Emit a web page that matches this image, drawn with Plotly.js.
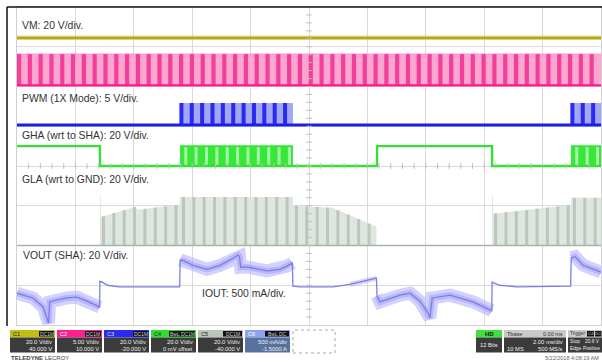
<!DOCTYPE html>
<html><head><meta charset="utf-8">
<script src="https://cdn.plot.ly/plotly-3.0.1.min.js"></script>
<style>html,body{margin:0;padding:0;background:#fff;}#chart{width:602px;height:362px;}</style>
</head><body><div id="chart"></div>
<script>
// ---- DATA (time in ms: 2 ms/div x 10 div; levels in screen divisions: 0 = bottom, 8 = top) ----
const commutationEdges = [2.84, 5.58, 9.45, 12.33, 16.27, 18.97];
const vmLevel = 7.22;
const pwmLow = 6.03, pwmHigh = 6.82, pwmStripePeriod = 0.37;
const blueLow = 5.03, blueHigh = 5.585;
const blueBursts = [[5.58, 9.45], [18.97, 20]];
const greenStepT = [0, 2.84, 2.84, 12.33, 12.33, 16.27, 16.27, 20];
const greenStepY = [4.5, 4.5, 4.0, 4.0, 4.5, 4.5, 4.0, 4.0];
const greenLow = 4.0, greenHigh = 4.5;
const greenBursts = [[5.58, 9.45], [18.97, 20]];
const burstStripePeriod = 0.355;
const glaBase = 2.0;
const glaEnvT = [[2.84, 2.865, 2.88, 4.04, 4.14, 5.58],
                 [5.58, 9.45],
                 [9.45, 10.8, 12.31],
                 [16.27, 16.295, 16.31, 18.97],
                 [18.97, 20]];
const glaEnvTop = [[3.27, 3.27, 2.72, 2.97, 2.90, 3.03],
                   [3.22, 3.22],
                   [3.00, 2.95, 2.47],
                   [3.25, 3.25, 2.80, 3.02],
                   [3.20, 3.20]];
const voutT = [0, 0.55, 0.90, 1.03, 1.08, 1.12, 1.30, 1.71, 2.05, 2.40, 2.74, 2.83,
  2.84, 2.92, 3.10, 3.50, 5.57,
  5.59, 5.70, 6.03, 6.51, 6.95, 7.40, 7.57, 7.62, 7.66, 7.88, 8.56, 9.00, 9.25, 9.43,
  9.45, 9.70, 10.82, 11.40, 12.09, 12.31,
  12.33, 12.43, 13.12, 13.46, 13.80, 14.08, 14.14, 14.22, 14.83, 15.62, 16.20, 16.26,
  16.27, 16.32, 16.54, 17.12, 18.96,
  18.98, 19.11, 19.38, 20.0];
const voutY = [0.80, 0.68, 0.45, 0.15, 0.05, 0.58, 0.62, 0.68, 0.70, 0.60, 0.48, 0.45,
  1.10, 1.08, 1.00, 0.96, 0.96,
  1.64, 1.62, 1.50, 1.40, 1.50, 1.68, 1.76, 1.72, 1.45, 1.46, 1.36, 1.40, 1.48, 1.56,
  0.98, 0.96, 0.96, 1.02, 1.15, 1.18,
  0.73, 0.58, 0.75, 0.80, 0.60, 0.30, 0.18, 0.68, 0.75, 0.58, 0.38, 0.36,
  1.08, 1.06, 1.00, 0.96, 0.98,
  1.69, 1.72, 1.51, 1.33];
const voutBands = [[0, 2.835], [5.585, 9.44], [12.32, 16.265], [18.975, 20]];
const voutNarrowBands = [[10.9, 12.32]];
const groundLevels = [6.03, 5.03, 4.0, 2.0, 0.98];
const traceLabels = ['VM: 20 V/div.', 'PWM (1X Mode): 5 V/div.', 'GHA (wrt to SHA): 20 V/div.',
  'GLA (wrt to GND): 20 V/div.', 'VOUT (SHA): 20 V/div.', 'IOUT: 500 mA/div.'];
const chanNames = ['C1', 'C2', 'C3', 'C4', 'C5', 'C6'];
const chanTags = ['DC1M', 'DC1M', 'DC1M', 'BwL DC1M', 'DC1M', 'BwL DC'];
const chanScales = ['20.0 V/div', '5.00 V/div', '20.0 V/div', '20.0 V/div', '20.0 V/div', '500 mA/div'];
const chanOffsets = ['40.000 V', '10.000 V', '-20.000 V', '0 mV offset', '-40.000 V', '-1.5000 A'];
const hdBox = ['HD', '12 Bits'];
const tbaseBox = ['Tbase', '0.00 ms', '2.00 ms/div', '10 MS', '500 MS/s'];
const trigBox = ['Trigger', 'C4', 'DC', 'Stop', '20.6 V', 'Edge', 'Positive'];
const dateText = '5/22/2018 4:08:19 AM';

// ---- helpers ----
const L = 17, R = 601, T = 7, B = 325;
const PX = x => (x - L) / (R - L);
const PY = y => (B - y) / (B - T);
function rects(iv, lo, hi) { const x = [], y = []; iv.forEach(([a, b]) => { x.push(a, b, b, a, a, null); y.push(lo, lo, hi, hi, lo, null); }); return {x, y}; }
function stripes(iv, period, phase, lo, topFn) {
  const x = [], y = [];
  iv.forEach(([a, b]) => { for (let t = a + phase; t < b - 0.03; t += period) { x.push(t, t, null); y.push(lo, topFn(t), null); } });
  return {x, y};
}
function interp(ts, ys, t) {
  for (let i = 0; i < ts.length - 1; i++) if (t >= ts[i] && t <= ts[i + 1]) {
    const f = (t - ts[i]) / ((ts[i + 1] - ts[i]) || 1); return ys[i] + f * (ys[i + 1] - ys[i]);
  }
  return ys[ys.length - 1];
}
function sub(iv) { const x = [], y = []; iv.forEach(([a, b]) => { voutT.forEach((t, i) => { if (t >= a && t <= b) { x.push(t); y.push(voutY[i]); } }); x.push(null); y.push(null); }); return {x, y}; }
const ln = (d, color, width, extra) => Object.assign({type: 'scatter', mode: 'lines', x: d.x, y: d.y, line: {color, width}, hoverinfo: 'skip'}, extra || {});
const fillT = (d, color) => ({type: 'scatter', mode: 'lines', x: d.x, y: d.y, fill: 'toself', fillcolor: color, line: {width: 0, color: color}, hoverinfo: 'skip'});

const traces = [];
// VM
traces.push(ln({x: [0, 20], y: [vmLevel + 0.05, vmLevel + 0.05]}, 'rgba(190,185,60,0.45)', 1));
traces.push(ln({x: [0, 20], y: [vmLevel, vmLevel]}, '#b3ab12', 3));
// PWM (pink)
traces.push(fillT(rects([[0, 20]], pwmLow, pwmHigh), '#ffa6d0'));
traces.push(ln(stripes([[0, 20]], pwmStripePeriod, 0.07, pwmLow, () => pwmHigh), '#f2409a', 4.2));
traces.push(ln({x: [0, 20], y: [pwmHigh, pwmHigh]}, 'rgba(255,120,190,0.6)', 1));
traces.push(ln({x: [0, 20], y: [pwmLow, pwmLow]}, '#ff1a8c', 2.2));
// blue
traces.push(fillT(rects(blueBursts, blueLow, blueHigh), '#a3a8f6'));
traces.push(ln(stripes(blueBursts, burstStripePeriod, 0.05, blueLow, () => blueHigh), '#2a2af2', 4));
traces.push(ln({x: [0, 20], y: [blueLow, blueLow]}, '#1d1dee', 3));
// green
traces.push(fillT(rects(greenBursts, greenLow, greenHigh), '#38e838'));
traces.push(ln(stripes(greenBursts, burstStripePeriod, 0.2, greenLow, () => greenHigh - 0.02), '#a8f4a8', 3));
traces.push(ln(rects(greenBursts, greenHigh, greenHigh), '#33e633', 2));
traces.push(ln({x: greenStepT, y: greenStepY}, '#33e033', 2.4));
// GLA (gray)
glaEnvT.forEach((ts, k) => {
  const tops = glaEnvTop[k];
  traces.push(fillT({x: ts.concat([ts[ts.length - 1], ts[0], ts[0]]), y: tops.concat([glaBase, glaBase, tops[0]])}, '#dfe5df'));
  traces.push(ln(stripes([[ts[0], ts[ts.length - 1]]], burstStripePeriod, 0.12, glaBase, t => interp(ts, tops, t)), '#bcc7bc', 3));
});
traces.push(ln({x: [0, 20], y: [glaBase, glaBase]}, '#a9b3a9', 1.5));
// VOUT / IOUT
traces.push(ln(sub(voutBands), 'rgba(180,180,252,0.6)', 13));
traces.push(ln(sub(voutNarrowBands), 'rgba(180,180,252,0.55)', 5));
traces.push(ln(sub(voutBands), 'rgba(150,150,245,0.45)', 6));
traces.push(ln({x: voutT, y: voutY}, '#7c7cee', 1.3));
// centre graticule ticks
const ctx = [], cty = [], cvx = [], cvy = [];
for (let i = 1; i < 50; i++) { ctx.push(i * 0.4); cty.push(4); }
for (let i = 1; i < 40; i++) { cvx.push(10); cvy.push(i * 0.2); }
traces.push({type: 'scatter', mode: 'markers', x: ctx, y: cty, marker: {symbol: 'line-ns', size: 4, line: {width: 1, color: '#bdbdbd'}}, hoverinfo: 'skip'});
traces.push({type: 'scatter', mode: 'markers', x: cvx, y: cvy, marker: {symbol: 'line-ew', size: 4, line: {width: 1, color: '#bdbdbd'}}, hoverinfo: 'skip'});
// ground markers
traces.push({type: 'scatter', mode: 'markers', x: groundLevels.map(() => -0.15), y: groundLevels, cliponaxis: false,
  marker: {symbol: 'square', size: 4, color: ['#ff5aa8', '#5a5af0', '#5ae05a', '#b0bab0', '#9a9af0'], opacity: 0.8}, hoverinfo: 'skip'});

// ---- annotations ----
const labelFont = {family: 'Liberation Sans, Arial, sans-serif', size: 10.4, color: '#333'};
const labelPos = [[20, 26], [20, 98], [20, 135], [20, 179], [21, 256], [200, 293]];
const annotations = traceLabels.map((t, i) => ({text: t, xref: 'paper', yref: 'paper', x: PX(labelPos[i][0]), y: PY(labelPos[i][1]),
  xanchor: 'left', yanchor: 'middle', showarrow: false, font: labelFont}));
const shapes = [];
const small = (sz, col, bold) => ({family: 'Liberation Sans, Arial, sans-serif', size: sz, color: col, weight: bold ? 'bold' : 'normal'});
function rect(x0, y0, x1, y1, fill, line) { shapes.push({type: 'rect', xref: 'paper', yref: 'paper', x0: PX(x0), x1: PX(x1), y0: PY(y1), y1: PY(y0), fillcolor: fill, line: line || {width: 0}, layer: 'above'}); }
function txt(s, x, y, anchor, font) { annotations.push({text: s, xref: 'paper', yref: 'paper', x: PX(x), y: PY(y), xanchor: anchor, yanchor: 'middle', showarrow: false, font, borderpad: 0}); }
// frame
shapes.push({type: 'line', xref: 'paper', yref: 'paper', x0: PX(7), x1: PX(602), y0: PY(7), y1: PY(7), line: {color: '#111', width: 1.5}, layer: 'above'});
shapes.push({type: 'line', xref: 'paper', yref: 'paper', x0: PX(7), x1: PX(7), y0: PY(7), y1: PY(326), line: {color: '#111', width: 1.5}, layer: 'above'});
// channel boxes
const hdrCol = ['#c3bd12', '#ff1f8f', '#2b2bee', '#2fdf2f', '#b9c6b9', '#8fa2f2'];
const hdrTxt = ['#222', '#fff', '#ddd', '#222', '#222', '#fff'];
const lowCol = ['#3b3b3b', '#3b3b3b', '#3b3b3b', '#3b3b3b', '#3b3b3b', '#58729e'];
const tagW = [15, 16, 15, 26, 19, 24];
chanNames.forEach((n, i) => {
  const x0 = 10 + i * 47, x1 = x0 + 45;
  rect(x0, 330, x1, 337.5, hdrCol[i]);
  rect(x0, 337.5, x1, 352.5, lowCol[i]);
  rect(x1 - 1 - tagW[i], 331, x1 - 1, 336.5, '#111');
  txt(n, x0 + 2, 333.8, 'left', small(5.5, hdrTxt[i]));
  txt(chanTags[i], x1 - 1 - tagW[i] / 2, 333.8, 'center', small(5, '#ccc'));
  txt(chanScales[i], x1 - 2, 341.5, 'right', small(5.8, '#eee'));
  txt(chanOffsets[i], x1 - 2, 348.8, 'right', small(5.8, '#eee'));
});
// dotted empty box
rect(293, 330, 335, 353, 'rgba(0,0,0,0)', {color: '#aaa', width: 1, dash: 'dot'});
// HD box
rect(476, 330, 502, 337.5, '#3ee03e'); rect(476, 337.5, 502, 352.5, '#3b3b3b');
txt(hdBox[0], 489, 333.8, 'center', small(6, '#111', true));
txt(hdBox[1], 489, 345, 'center', small(5.8, '#eee'));
// timebase box
rect(504, 330, 566, 337.5, '#c9c9c9'); rect(504, 337.5, 566, 352.5, '#3b3b3b');
txt(tbaseBox[0], 506, 333.8, 'left', small(5.5, '#333'));
txt(tbaseBox[1], 564, 333.8, 'right', small(5.5, '#333'));
txt(tbaseBox[2], 564, 341.5, 'right', small(5.8, '#eee'));
txt(tbaseBox[3], 506, 348.8, 'left', small(5.8, '#eee'));
txt(tbaseBox[4], 564, 348.8, 'right', small(5.8, '#eee'));
// trigger box
rect(568, 330, 602, 337.5, '#c9c9c9'); rect(568, 337.5, 602, 352.5, '#3b3b3b');
rect(587, 331, 594, 336.5, '#111'); rect(595, 331, 601.5, 336.5, '#111');
txt(trigBox[0], 569, 333.8, 'left', small(4.8, '#333'));
txt(trigBox[1], 590.5, 333.8, 'center', small(4.4, '#ccc'));
txt(trigBox[2], 598.2, 333.8, 'center', small(4.4, '#ccc'));
txt(trigBox[3], 569, 341.5, 'left', small(4.8, '#eee'));
txt(trigBox[4], 601, 341.5, 'right', small(4.8, '#eee'));
txt(trigBox[5], 569, 348.8, 'left', small(4.8, '#eee'));
txt(trigBox[6], 601, 348.8, 'right', small(4.8, '#eee'));
// footer
txt('<b>TELEDYNE</b> LECROY', 10, 357.5, 'left', small(6, '#444'));
txt(dateText, 600, 357.5, 'right', small(5.5, '#666'));

const layout = {
  width: 602, height: 362, margin: {l: L, r: 602 - R, t: T, b: 362 - B},
  paper_bgcolor: '#fff', plot_bgcolor: '#fff', showlegend: false,
  xaxis: {range: [0, 20], dtick: 2, tick0: 0, showgrid: true, gridcolor: '#dadada', gridwidth: 1, zeroline: false,
    showticklabels: false, ticks: '', showline: true, mirror: true, linecolor: '#d0d0d0', linewidth: 1, fixedrange: true},
  yaxis: {range: [0, 8], dtick: 1, tick0: 0, showgrid: true, gridcolor: '#dadada', gridwidth: 1, zeroline: false,
    showticklabels: false, ticks: '', showline: true, mirror: true, linecolor: '#d0d0d0', linewidth: 1, fixedrange: true},
  shapes, annotations, hovermode: false
};
Plotly.newPlot('chart', traces, layout, {staticPlot: true, displayModeBar: false});
</script></body></html>
